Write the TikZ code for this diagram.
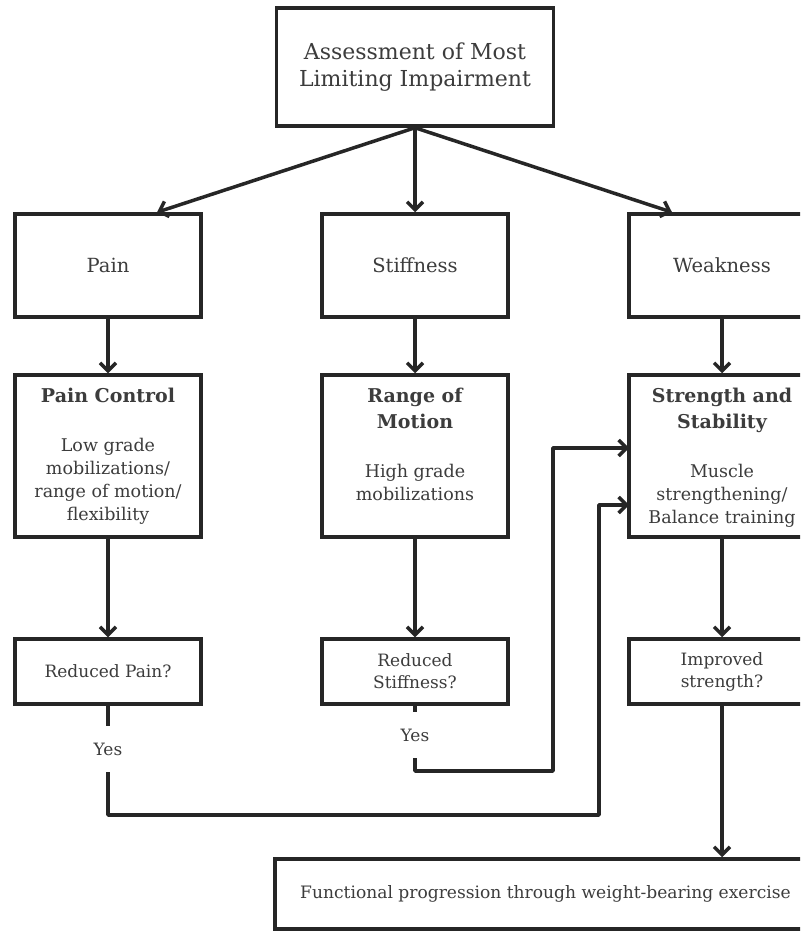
\documentclass[tikz,border=0pt]{standalone}
\usepackage{fontspec}
\setmainfont{DejaVu Serif}
\usetikzlibrary{arrows.meta}
\definecolor{linec}{HTML}{262626}
\definecolor{textc}{HTML}{3C3C3C}
\tikzset{
  box/.style={draw=linec, line width=3.5pt, rectangle, inner sep=0pt, text=textc},
  txt/.style={inner sep=0pt, text=textc, align=center},
  conn/.style={draw=linec, line width=3.5pt},
  arr/.style={conn, -{Straight Barb[length=8pt,width=16pt]}},
}
\begin{document}
\begin{tikzpicture}[x=1pt,y=-1pt]
\useasboundingbox (0,0) rectangle (800,931);
\clip (0,0) rectangle (800,931);
\fill[white] (0,0) rectangle (800,931);
% top
\node[box, minimum width=277pt, minimum height=118pt, align=center,
  font=\fontsize{22}{27}\selectfont] (top) at (415,67) {Assessment of Most\\Limiting Impairment};
% row 1
\node[box, minimum width=186pt, minimum height=103pt, font=\fontsize{19.5}{24}\selectfont] (pain) at (108,265.5) {Pain};
\node[box, minimum width=186pt, minimum height=103pt, font=\fontsize{19.5}{24}\selectfont] (stiff) at (415,265.5) {Stiffness};
\node[box, minimum width=186pt, minimum height=103pt, font=\fontsize{19.5}{24}\selectfont] (weak) at (722,265.5) {Weakness};
% row 2 boxes
\node[box, minimum width=186pt, minimum height=162pt] (pc) at (108,456) {};
\node[box, minimum width=186pt, minimum height=162pt] (rom) at (415,456) {};
\node[box, minimum width=186pt, minimum height=162pt] (ss) at (722,456) {};
% row 2 texts
\node[txt, anchor=north, font=\fontsize{19}{26}\selectfont\bfseries] (pct) at (108,388) {Pain Control};
\node[txt, anchor=north, font=\fontsize{17.5}{23}\selectfont] (pcb) at (108,438) {Low grade\\mobilizations/\\range of motion/\\flexibility};
\node[txt, anchor=north, font=\fontsize{19}{26}\selectfont\bfseries] (romt) at (415,388) {Range of\\Motion};
\node[txt, anchor=north, font=\fontsize{17.5}{23}\selectfont] (romb) at (415,464) {High grade\\mobilizations};
\node[txt, anchor=north, font=\fontsize{19}{26}\selectfont\bfseries] (sst) at (722,388) {Strength and\\Stability};
\node[txt, anchor=north, font=\fontsize{17.5}{23}\selectfont] (ssb) at (722,464) {Muscle\\strengthening/\\Balance training};
% row 3
\node[box, minimum width=186pt, minimum height=65pt, font=\fontsize{17}{22}\selectfont] (rp) at (108,671.5) {Reduced Pain?};
\node[box, minimum width=186pt, minimum height=65pt, font=\fontsize{17}{22}\selectfont, align=center] (rs) at (415,671.5) {Reduced\\Stiffness?};
\node[box, minimum width=186pt, minimum height=65pt, font=\fontsize{17}{22}\selectfont, align=center] (is) at (722,671.5) {Improved\\strength?};
% yes labels
\node[txt, minimum height=46pt, font=\fontsize{17}{22}\selectfont] (yes1) at (108,749) {Yes};
\node[txt, minimum height=46pt, font=\fontsize{17}{22}\selectfont] (yes2) at (415,735) {Yes};
% bottom
\node[box, minimum width=560pt, minimum height=70pt] (fin) at (555,894) {};
\node[txt, anchor=west, font=\fontsize{17.1}{21}\selectfont] (fint) at (300,894) {Functional progression through weight-bearing exercise};
% connectors
\draw[arr] (top.south) -- (pain.north -| 157,0);
\draw[arr] (top.south) -- (stiff.north);
\draw[arr] (top.south) -- (weak.north -| 672,0);
\draw[arr] (pain) -- (pc);
\draw[arr] (stiff) -- (rom);
\draw[arr] (weak) -- (ss);
\draw[arr] (pc) -- (rp);
\draw[arr] (rom) -- (rs);
\draw[arr] (ss) -- (is);
\draw[arr] (is.south) -- (fin.north -| is.south);
\coordinate (c1) at (599,815);
\coordinate (t1) at (629,505);
\coordinate (c2) at (553,771);
\coordinate (t2) at (629,448);
\draw[conn] (rp.south) -- (yes1.north);
\draw[conn] (rs.south) -- (yes2.north);
\draw[arr, line join=round] (yes1.south) |- (c1) |- (t1);
\draw[arr, line join=round] (yes2.south) |- (c2) |- (t2);
\end{tikzpicture}
\end{document}
